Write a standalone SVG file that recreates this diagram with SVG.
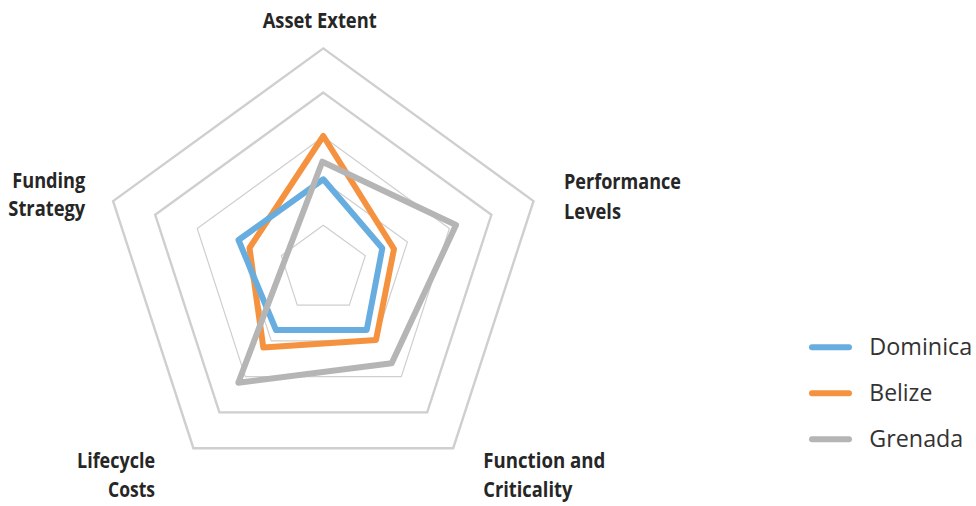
<svg xmlns="http://www.w3.org/2000/svg" width="976" height="506" viewBox="0 0 976 506">
<style>
.grid{fill:none;stroke:#d0cece;stroke-linejoin:miter}
.g-thick{stroke-width:2.4}
.g-thin{stroke-width:1.2}
.series{fill:none;stroke-width:6;stroke-linejoin:round;stroke-linecap:round}
.dom{stroke:#68ade0}
.bel{stroke:#f59240}
.gre{stroke:#b5b5b5}
.lbl{font-family:"Open Sans","Liberation Sans",sans-serif;font-weight:bold;font-size:22px;fill:#262626}
.leg{font-family:"Open Sans","Liberation Sans",sans-serif;font-size:23px;fill:#333333}
</style>
<rect width="976" height="506" fill="#ffffff"/>
<g id="grid">
<polygon class="grid g-thick" points="323.3,48.4 533.5,201.1 453.2,448.2 193.4,448.2 113.1,201.1"/>
<polygon class="grid g-thick" points="323.3,92.6 491.4,214.8 427.2,412.4 219.4,412.4 155.2,214.8"/>
<polygon class="grid g-thin" points="323.3,136.8 449.4,228.4 401.3,376.7 245.3,376.7 197.2,228.4"/>
<polygon class="grid g-thin" points="323.3,181 407.4,242.1 375.3,340.9 271.3,340.9 239.2,242.1"/>
<polygon class="grid g-thin" points="323.3,225.2 365.3,255.7 349.3,305.2 297.3,305.2 281.3,255.7"/>
</g>
<g id="connectors">
<polygon id="series-belize" class="series bel" points="323.3,136 394,249 376,340 263.3,347.5 249.5,248"/>
<polygon id="series-dominica" class="series dom" points="323.3,179.3 382.3,248.3 366.7,330 276,330 238.5,240"/>
<polygon id="series-grenada" class="series gre" points="322.3,161.7 456,225 391.7,363.3 238.3,382.7 286,257"/>
</g>
<g id="label-asset-extent"><text class="lbl" x="262.7" y="28.3" textLength="114" lengthAdjust="spacingAndGlyphs">Asset Extent</text></g>
<g id="label-performance-levels">
<text class="lbl" x="564" y="189.3" textLength="117" lengthAdjust="spacingAndGlyphs">Performance</text>
<text class="lbl" x="564" y="219.3" textLength="57" lengthAdjust="spacingAndGlyphs">Levels</text>
</g>
<g id="label-function-criticality">
<text class="lbl" x="483.3" y="468.3" textLength="122" lengthAdjust="spacingAndGlyphs">Function and</text>
<text class="lbl" x="483.3" y="496.7" textLength="89" lengthAdjust="spacingAndGlyphs">Criticality</text>
</g>
<g id="label-lifecycle-costs">
<text class="lbl" x="77" y="468.3" textLength="78" lengthAdjust="spacingAndGlyphs">Lifecycle</text>
<text class="lbl" x="108" y="496.7" textLength="47" lengthAdjust="spacingAndGlyphs">Costs</text>
</g>
<g id="label-funding-strategy">
<text class="lbl" x="12.3" y="188.3" textLength="73" lengthAdjust="spacingAndGlyphs">Funding</text>
<text class="lbl" x="8.3" y="216" textLength="77" lengthAdjust="spacingAndGlyphs">Strategy</text>
</g>
<g id="legend">
<g id="legend-dominica"><line class="series dom" x1="812" y1="347.3" x2="849" y2="347.3"/><text class="leg" x="869.3" y="355" textLength="103" lengthAdjust="spacingAndGlyphs">Dominica</text></g>
<g id="legend-belize"><line class="series bel" x1="812" y1="393.3" x2="849" y2="393.3"/><text class="leg" x="869.3" y="401" textLength="63" lengthAdjust="spacingAndGlyphs">Belize</text></g>
<g id="legend-grenada"><line class="series gre" x1="812" y1="439.3" x2="849" y2="439.3"/><text class="leg" x="869.3" y="447" textLength="94" lengthAdjust="spacingAndGlyphs">Grenada</text></g>
</g>
</svg>
